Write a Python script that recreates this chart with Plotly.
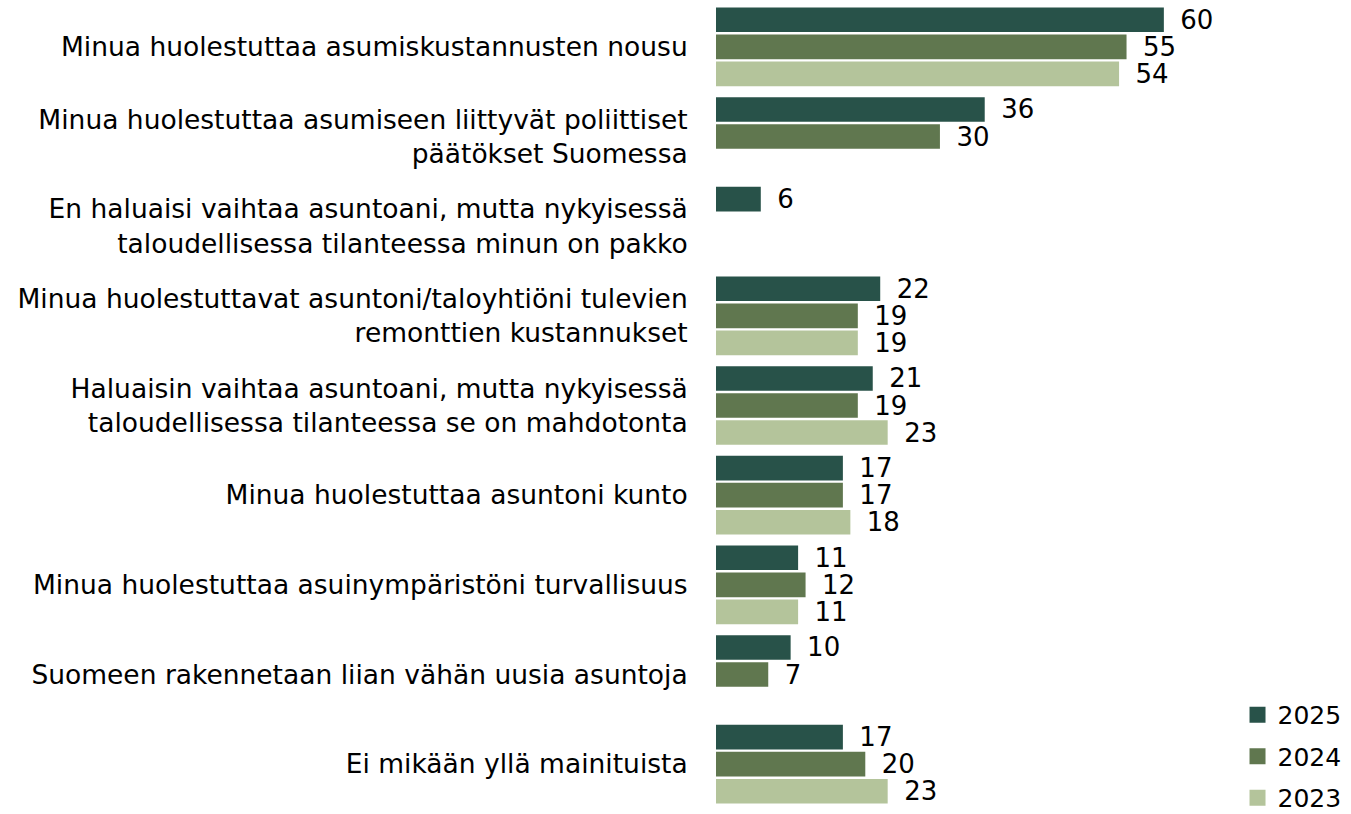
import plotly.graph_objects as go

categories = [
    "Minua huolestuttaa asumiskustannusten nousu",
    "Minua huolestuttaa asumiseen liittyvät poliittiset<br>päätökset Suomessa",
    "En haluaisi vaihtaa asuntoani, mutta nykyisessä<br>taloudellisessa tilanteessa minun on pakko",
    "Minua huolestuttavat asuntoni/taloyhtiöni tulevien<br>remonttien kustannukset",
    "Haluaisin vaihtaa asuntoani, mutta nykyisessä<br>taloudellisessa tilanteessa se on mahdotonta",
    "Minua huolestuttaa asuntoni kunto",
    "Minua huolestuttaa asuinympäristöni turvallisuus",
    "Suomeen rakennetaan liian vähän uusia asuntoja",
    "Ei mikään yllä mainituista",
]
v2025 = [60, 36, 6, 22, 21, 17, 11, 10, 17]
v2024 = [55, 30, None, 19, 19, 17, 12, 7, 20]
v2023 = [54, None, None, 19, 23, 18, 11, None, 23]

series = [("2025", v2025, "#285249"), ("2024", v2024, "#60774f"), ("2023", v2023, "#b4c49b")]

fig = go.Figure()
for name, vals, col in series:
    fig.add_trace(go.Bar(
        y=categories, x=vals, name=name, orientation="h",
        legendgroup=name, showlegend=False,
        marker=dict(color=col, line=dict(width=0)),
        text=vals, texttemplate="\u00a0\u2009%{x}", textposition="outside",
        constraintext="none",
        textfont=dict(size=26, color="#000000", family="DejaVu Sans"),
        cliponaxis=False,
    ))
# legend entries with larger square swatches
for name, vals, col in series:
    fig.add_trace(go.Scatter(
        x=[None], y=[None], mode="markers", name=name, legendgroup=name,
        marker=dict(symbol="square", size=16, color=col),
        showlegend=True, hoverinfo="skip",
    ))

fig.update_layout(
    width=1351, height=814,
    barmode="group", bargap=0.096, bargroupgap=0.09,
    plot_bgcolor="white", paper_bgcolor="white",
    font=dict(family="DejaVu Sans", size=26.5, color="#000000"),
    margin=dict(l=716, r=111, t=2, b=5, autoexpand=False),
    xaxis=dict(range=[0, 70.2], visible=False, showgrid=False, zeroline=False),
    yaxis=dict(autorange="reversed", showgrid=False, zeroline=False, ticks="outside",
               ticklen=22, tickcolor="rgba(0,0,0,0)", showline=False),
    legend=dict(xref="container", yref="paper", x=0.916, xanchor="left",
                y=-0.0148, yanchor="bottom", traceorder="grouped",
                font=dict(size=25), itemwidth=30, tracegroupgap=6,
                bgcolor="rgba(0,0,0,0)"),
    showlegend=True,
)
fig.write_html("out.html", config={"displayModeBar": False},
               post_script="document.body.style.margin='0';document.body.style.padding='0';")
